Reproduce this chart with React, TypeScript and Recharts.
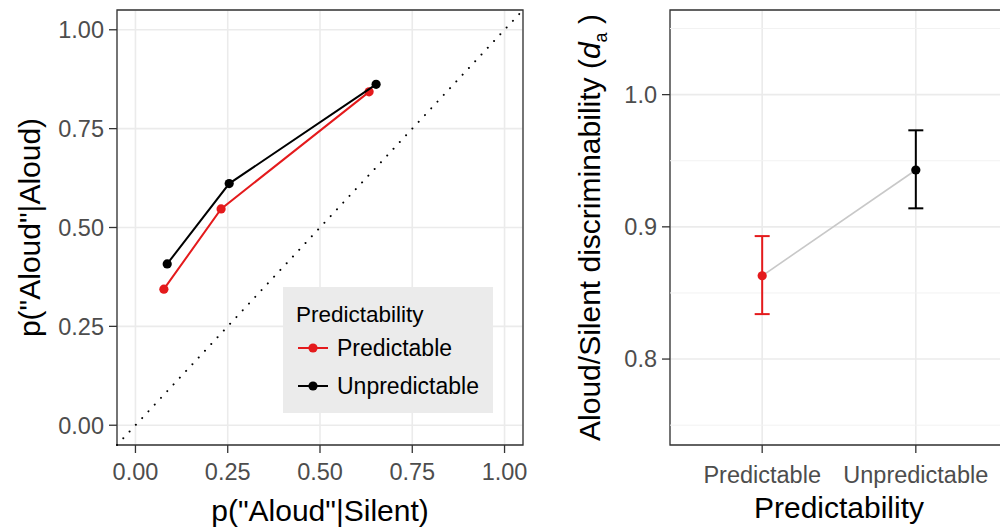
import React from 'react';
import { ComposedChart, Scatter, Line, XAxis, YAxis, CartesianGrid, ReferenceLine, ReferenceArea, ErrorBar, Legend } from 'recharts';

const groups = ['Predictable', 'Unpredictable'];
const groupColors = ['#E41A1C', '#000000'];

// ROC points: p("Aloud"|Silent) on x, p("Aloud"|Aloud) on y
const falseAlarmsPred = [0.077, 0.232, 0.633];
const hitsPred = [0.344, 0.547, 0.843];
const falseAlarmsUnpred = [0.086, 0.254, 0.652];
const hitsUnpred = [0.408, 0.611, 0.862];
const rocTicks = [0, 0.25, 0.5, 0.75, 1];

// d_a per condition with error bars
const daMeans = [0.863, 0.943];
const daLower = [0.834, 0.914];
const daUpper = [0.893, 0.973];
const daTicks = [0.8, 0.9, 1.0];
const daMinor = [0.75, 0.85, 0.95, 1.05];

const FONT = '"Liberation Sans", Arial, Helvetica, sans-serif';
const GRID = '#EBEBEB';
const BORDER = '#333333';
const TICK_TEXT = '#4D4D4D';

const rocSeries = [
  falseAlarmsPred.map((x, i) => ({ x, y: hitsPred[i] })),
  falseAlarmsUnpred.map((x, i) => ({ x, y: hitsUnpred[i] })),
];

const daData = groups.map((g, i) => ({
  x: i + 1,
  name: g,
  y: daMeans[i],
  err: [daMeans[i] - daLower[i], daUpper[i] - daMeans[i]],
}));

const dot = (color: string) => (p: any) => <circle cx={p.cx} cy={p.cy} r={4.6} fill={color} />;

const xTitle = (content: React.ReactNode, drop: number) => (props: any) => {
  const { x, y, width, height } = props.viewBox;
  return (
    <text x={x + width / 2} y={y + height - drop} textAnchor="middle" fontSize={30} fill="#000">
      {content}
    </text>
  );
};

const yTitle = (content: React.ReactNode, baseX: number) => (props: any) => {
  const { y, height } = props.viewBox;
  const cy = y + height / 2;
  return (
    <text x={baseX} y={cy} transform={`rotate(-90, ${baseX}, ${cy})`} textAnchor="middle" fontSize={30} fill="#000">
      {content}
    </text>
  );
};

const RocLegend = () => (
  <svg width={210} height={126} style={{ display: 'block', background: GRID }}>
    <text x={13} y={35} fontSize={22.5} fill="#000">Predictability</text>
    {groups.map((g, i) => {
      const cy = 61 + i * 38;
      return (
        <g key={g}>
          <line x1={15} x2={45} y1={cy} y2={cy} stroke={groupColors[i]} strokeWidth={2} />
          <circle cx={30} cy={cy} r={4.6} fill={groupColors[i]} />
          <text x={54} y={cy + 8} fontSize={23} fill="#000">{g}</text>
        </g>
      );
    })}
  </svg>
);

function RocChart() {
  return (
    <ComposedChart width={540} height={531} margin={{ top: 10, right: 17, bottom: 0, left: 0 }}>
      <CartesianGrid stroke={GRID} strokeWidth={1.6} />
      <XAxis
        type="number"
        dataKey="x"
        domain={[-0.05, 1.05]}
        ticks={rocTicks}
        allowDataOverflow
        tickFormatter={(v: number) => v.toFixed(2)}
        height={86}
        axisLine={false}
        tickSize={8}
        tickMargin={10}
        tickLine={{ stroke: BORDER, strokeWidth: 1.3 }}
        tick={{ fill: TICK_TEXT, fontSize: 23.5 }}
        label={xTitle('p("Aloud"|Silent)', 10)}
      />
      <YAxis
        type="number"
        dataKey="y"
        domain={[-0.05, 1.05]}
        ticks={rocTicks}
        allowDataOverflow
        tickFormatter={(v: number) => v.toFixed(2)}
        width={117}
        axisLine={false}
        tickSize={8}
        tickMargin={5}
        tickLine={{ stroke: BORDER, strokeWidth: 1.3 }}
        tick={{ fill: TICK_TEXT, fontSize: 23.5 }}
        label={yTitle('p("Aloud"|Aloud)', 40)}
      />
      <ReferenceLine
        segment={[{ x: -0.05, y: -0.05 }, { x: 1.05, y: 1.05 }]}
        stroke="#000"
        strokeWidth={2}
        strokeDasharray="0.01 9.2"
        strokeLinecap="round"
        ifOverflow="visible"
      />
      {rocSeries.map((data, i) => (
        <Scatter
          key={groups[i]}
          name={groups[i]}
          data={data}
          dataKey="y"
          fill={groupColors[i]}
          line={{ stroke: groupColors[i], strokeWidth: 2 }}
          shape={dot(groupColors[i])}
          isAnimationActive={false}
        />
      ))}
      <ReferenceArea x1={-0.05} x2={1.05} y1={-0.05} y2={1.05} fill="none" stroke={BORDER} strokeWidth={1.3} ifOverflow="visible" />
      <Legend
        layout="vertical"
        align="center"
        verticalAlign="middle"
        wrapperStyle={{ left: 283, top: 287, width: 210, height: 126 }}
        content={<RocLegend />}
      />
    </ComposedChart>
  );
}

function DaChart() {
  return (
    <ComposedChart width={460} height={531} margin={{ top: 10, right: 12, bottom: 0, left: 0 }}>
      {daMinor.map((v) => (
        <ReferenceLine key={v} y={v} stroke="#F2F2F2" strokeWidth={1} />
      ))}
      <CartesianGrid stroke={GRID} strokeWidth={1.6} />
      <XAxis
        type="number"
        dataKey="x"
        domain={[0.4, 2.6]}
        ticks={[1, 2]}
        allowDataOverflow
        tickFormatter={(v: number) => groups[v - 1]}
        height={86}
        axisLine={false}
        tickSize={8}
        tickMargin={13}
        tickLine={{ stroke: BORDER, strokeWidth: 1.3 }}
        tick={{ fill: TICK_TEXT, fontSize: 23.5 }}
        label={xTitle('Predictability', 13)}
      />
      <YAxis
        type="number"
        dataKey="y"
        domain={[0.735, 1.064]}
        ticks={daTicks}
        allowDataOverflow
        tickFormatter={(v: number) => v.toFixed(1)}
        width={110}
        axisLine={false}
        tickSize={8}
        tickMargin={5}
        tickLine={{ stroke: BORDER, strokeWidth: 1.3 }}
        tick={{ fill: TICK_TEXT, fontSize: 23.5 }}
        label={yTitle(
          <>
            <tspan>Aloud/Silent discriminability (</tspan>
            <tspan fontStyle="italic">d</tspan>
            <tspan dy={7} fontSize={18}>a</tspan>
            <tspan dy={-7}> )</tspan>
          </>,
          40
        )}
      />
      <Line data={daData} dataKey="y" stroke="#C8C8C8" strokeWidth={1.6} dot={false} isAnimationActive={false} />
      {daData.map((d, i) => (
        <Scatter key={d.name} name={d.name} data={[d]} dataKey="y" fill={groupColors[i]} shape={dot(groupColors[i])} isAnimationActive={false}>
          <ErrorBar dataKey="err" direction="y" width={7.5} strokeWidth={2} stroke={groupColors[i]} isAnimationActive={false} />
        </Scatter>
      ))}
      <ReferenceArea x1={0.4} x2={2.6} y1={0.735} y2={1.064} fill="none" stroke={BORDER} strokeWidth={1.3} ifOverflow="visible" />
    </ComposedChart>
  );
}

export default function App() {
  return (
    <div style={{ position: 'fixed', left: 0, top: 0, width: 1000, height: 531, overflow: 'hidden', background: '#fff', fontFamily: FONT }}>
      <div style={{ position: 'absolute', left: 0, top: 0 }}>
        <RocChart />
      </div>
      <div style={{ position: 'absolute', left: 560, top: 0 }}>
        <DaChart />
      </div>
    </div>
  );
}
